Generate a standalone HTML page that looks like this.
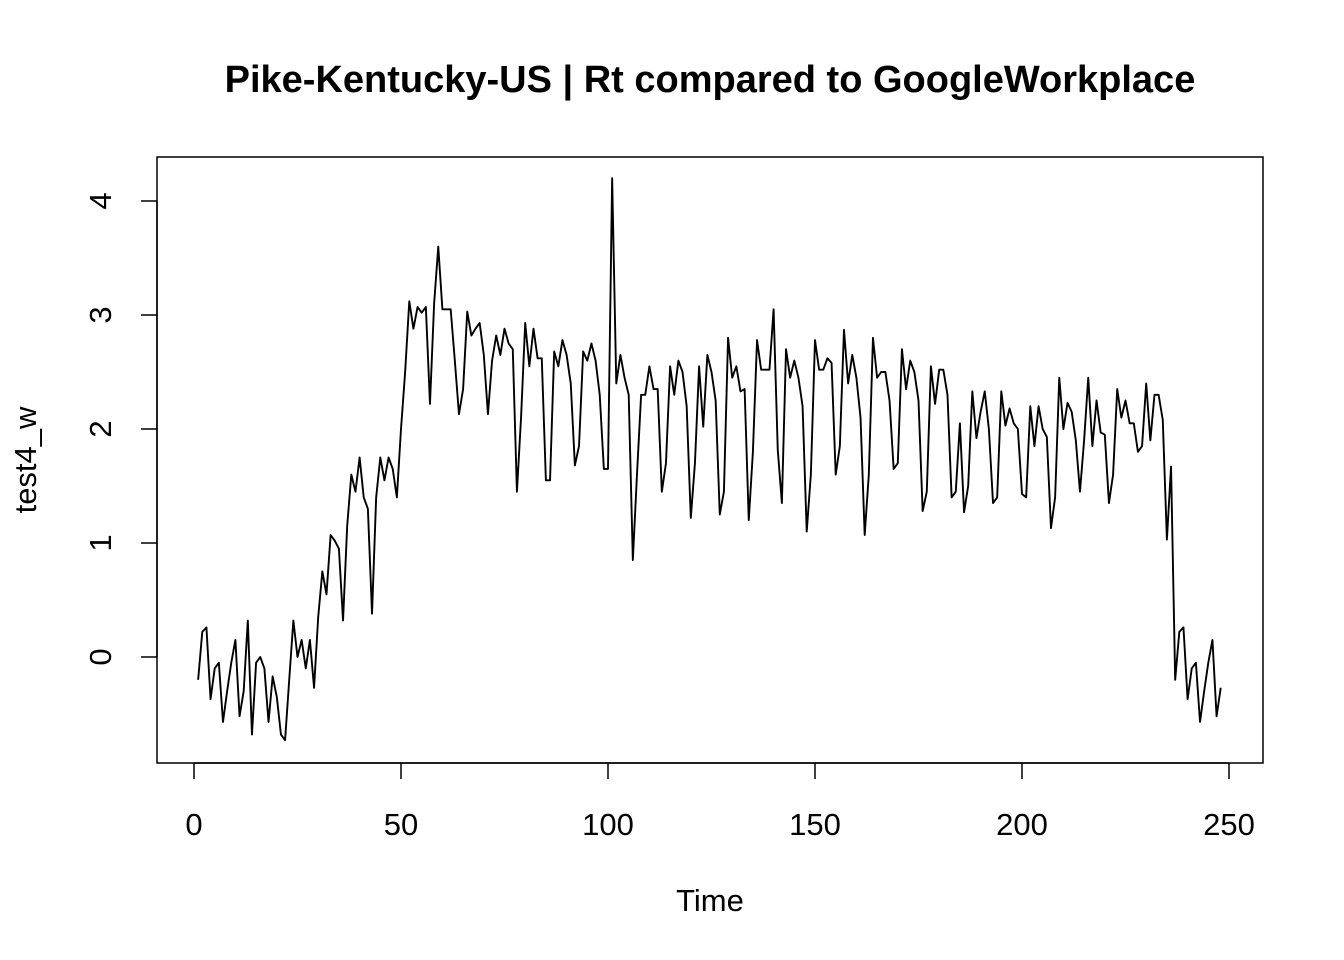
<!DOCTYPE html>
<html><head><meta charset="utf-8"><style>
html,body{margin:0;padding:0;background:#fff;}
svg{display:block;font-family:"Liberation Sans",Arial,sans-serif;}
</style></head><body>
<svg id="chart" width="1344" height="960" viewBox="0 0 1344 960">
<text x="710" y="92" text-anchor="middle" font-size="38" font-weight="bold">Pike-Kentucky-US | Rt compared to GoogleWorkplace</text>
<rect x="157" y="157" width="1106" height="606" fill="none" stroke="#000" stroke-width="1.5"/>
<g id="xaxis"></g>
<g id="yaxis"></g>
<text x="710" y="911" text-anchor="middle" font-size="31">Time</text>
<text transform="translate(36,460) rotate(-90)" text-anchor="middle" font-size="31">test4_w</text>
<path id="series" fill="none" stroke="#000" stroke-width="1.9" stroke-linejoin="round"/>
</svg>
<script>
const xTicks = [0, 50, 100, 150, 200, 250];
const yTicks = [0, 1, 2, 3, 4];
const values = [-0.2,0.22,0.26,-0.37,-0.1,-0.05,-0.57,-0.3,-0.05,0.15,-0.52,-0.3,0.32,-0.68,-0.05,0.0,-0.1,-0.57,-0.17,-0.35,-0.68,-0.73,-0.2,0.32,0.0,0.15,-0.1,0.15,-0.27,0.35,0.75,0.55,1.07,1.02,0.95,0.32,1.15,1.6,1.45,1.75,1.4,1.3,0.38,1.4,1.75,1.55,1.75,1.65,1.4,2.0,
2.5,3.12,2.88,3.07,3.02,3.07,2.22,3.1,3.6,3.05,3.05,3.05,2.6,2.13,2.35,3.03,2.82,2.88,2.93,2.65,2.13,2.6,2.82,2.65,2.88,2.75,2.7,1.45,2.1,2.93,2.55,2.88,2.62,2.62,1.55,1.55,2.68,2.55,2.78,2.65,2.4,1.68,1.85,2.68,2.6,2.75,2.6,2.3,1.65,1.65,
4.2,2.4,2.65,2.45,2.3,0.85,1.6,2.3,2.3,2.55,2.35,2.35,1.45,1.7,2.55,2.3,2.6,2.5,2.2,1.22,1.7,2.55,2.02,2.65,2.5,2.25,1.25,1.45,2.8,2.45,2.55,2.33,2.35,1.2,1.8,2.78,2.52,2.52,2.52,3.05,1.82,1.35,2.7,2.45,2.6,2.45,2.2,1.1,1.6,2.78,
2.52,2.52,2.62,2.58,1.6,1.85,2.87,2.4,2.65,2.45,2.1,1.07,1.6,2.8,2.45,2.5,2.5,2.25,1.65,1.7,2.7,2.35,2.6,2.5,2.25,1.28,1.45,2.55,2.22,2.52,2.52,2.3,1.4,1.45,2.05,1.27,1.5,2.33,1.92,2.15,2.33,2.0,1.35,1.4,2.33,2.03,2.18,2.05,2.0,1.43,
1.4,2.2,1.85,2.2,2.0,1.93,1.13,1.4,2.45,2.0,2.23,2.15,1.9,1.45,1.9,2.45,1.85,2.25,1.97,1.95,1.35,1.6,2.35,2.1,2.25,2.05,2.05,1.8,1.85,2.4,1.9,2.3,2.3,2.08,1.03,1.67,-0.2,0.22,0.26,-0.37,-0.1,-0.05,-0.57,-0.3,-0.05,0.15,-0.52,-0.27];

const xS = t => 194 + (t) * (1229 - 194) / 250;
const yS = v => 657 - v * 114;
const NS = "http://www.w3.org/2000/svg";
const xa = document.getElementById('xaxis');
const ya = document.getElementById('yaxis');
function mk(tag, attrs, parent){const e=document.createElementNS(NS,tag);for(const k in attrs)e.setAttribute(k,attrs[k]);parent.appendChild(e);return e;}
const xl = mk('line',{x1:xS(xTicks[0]),x2:xS(xTicks[xTicks.length-1]),y1:763,y2:763,stroke:'#000','stroke-width':1.5},xa);


xTicks.forEach(t=>{
  const l = mk('line',{x1:xS(t),x2:xS(t),y1:763,y2:779,stroke:'#000','stroke-width':1.5},xa);
  
  
  const tx = mk('text',{x:xS(t),y:835,'text-anchor':'middle','font-size':31},xa);
  tx.textContent = t;
  
  
});
const yl = mk('line',{x1:157,x2:157,y1:yS(yTicks[0]),y2:yS(yTicks[yTicks.length-1]),stroke:'#000','stroke-width':1.5},ya);


yTicks.forEach(v=>{
  const l = mk('line',{x1:141,x2:157,y1:yS(v),y2:yS(v),stroke:'#000','stroke-width':1.5},ya);
  
  
  const tx = mk('text',{transform:`translate(111,${yS(v)}) rotate(-90)`,'text-anchor':'middle','font-size':31},ya);
  tx.textContent = v;
  
  
});
document.getElementById('series').setAttribute('d', values.map((v,i)=>(i?'L':'M')+xS(i+1).toFixed(2)+','+yS(v).toFixed(2)).join(' '));
</script>
</body></html>
